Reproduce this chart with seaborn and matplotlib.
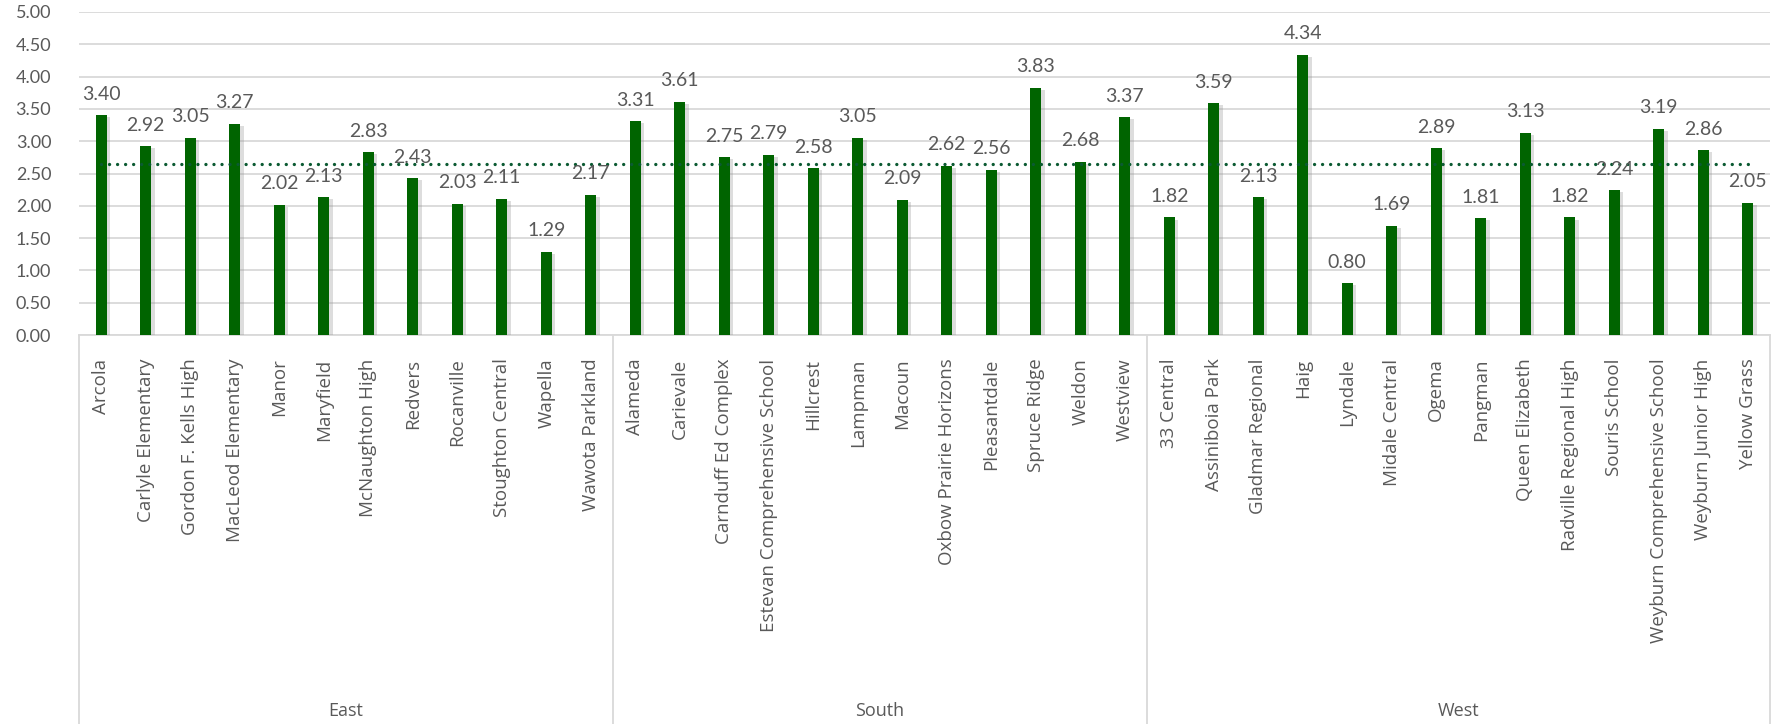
import matplotlib
matplotlib.use("Agg")
import matplotlib.pyplot as plt
import matplotlib.patheffects as pe
import matplotlib.transforms as mtrans
import seaborn as sns
import pandas as pd

# ---- data ----
east_schools = ["Arcola", "Carlyle Elementary", "Gordon F. Kells High", "MacLeod Elementary",
                "Manor", "Maryfield", "McNaughton High", "Redvers", "Rocanville",
                "Stoughton Central", "Wapella", "Wawota Parkland"]
east_values = [3.40, 2.92, 3.05, 3.27, 2.02, 2.13, 2.83, 2.43, 2.03, 2.11, 1.29, 2.17]

south_schools = ["Alameda", "Carievale", "Carnduff Ed Complex", "Estevan Comprehensive School",
                 "Hillcrest", "Lampman", "Macoun", "Oxbow Prairie Horizons", "Pleasantdale",
                 "Spruce Ridge", "Weldon", "Westview"]
south_values = [3.31, 3.61, 2.75, 2.79, 2.58, 3.05, 2.09, 2.62, 2.56, 3.83, 2.68, 3.37]

west_schools = ["33 Central", "Assiniboia Park", "Gladmar Regional", "Haig", "Lyndale",
                "Midale Central", "Ogema", "Pangman", "Queen Elizabeth", "Radville Regional High",
                "Souris School", "Weyburn Comprehensive School", "Weyburn Junior High", "Yellow Grass"]
west_values = [1.82, 3.59, 2.13, 4.34, 0.80, 1.69, 2.89, 1.81, 3.13, 1.82, 2.24, 3.19, 2.86, 2.05]

regions = ["East", "South", "West"]
reference_value = 2.65
y_ticks = [0.0, 0.5, 1.0, 1.5, 2.0, 2.5, 3.0, 3.5, 4.0, 4.5, 5.0]

# ---- build table ----
schools = east_schools + south_schools + west_schools
values = east_values + south_values + west_values
region_col = (["East"] * len(east_schools) + ["South"] * len(south_schools)
              + ["West"] * len(west_schools))
df = pd.DataFrame({"school": schools, "value": values, "region": region_col})

sns.set_theme(style="white")
plt.rcParams["font.family"] = ["Open Sans", "DejaVu Sans"]

fig = plt.figure(figsize=(17.77, 7.24), dpi=100)
ax = fig.add_axes([79 / 1777, 1 - 335 / 724, (1770 - 79) / 1777, (335 - 12) / 724])

bar_green = "#006400"
text_gray = "#595959"
grid_gray = "#d9d9d9"

sns.barplot(data=df, x="school", y="value", order=schools, color=bar_green,
            width=0.24, saturation=1, ax=ax, zorder=3)
for p in ax.patches:
    p.set_path_effects([pe.SimplePatchShadow(offset=(2.5, -1.5), shadow_rgbFace="#909090", alpha=0.3),
                        pe.Normal()])
    p.set_edgecolor("none")

n = len(schools)
ax.set_xlim(-0.5, n - 0.5)
ax.set_ylim(0, 5.0)
ax.set_yticks(y_ticks)
ax.set_yticklabels([f"{t:.2f}" for t in y_ticks], fontsize=13, color=text_gray,
                   family=["Lato", "DejaVu Sans"])
ax.tick_params(axis="y", length=0, pad=20)
ax.yaxis.grid(True, color=grid_gray, linewidth=1.3, zorder=0)
ax.set_axisbelow(True)
for s in ["top", "right", "left"]:
    ax.spines[s].set_visible(False)
ax.spines["bottom"].set_color(grid_gray)
ax.spines["bottom"].set_linewidth(1.3)

# average line (dotted, round dots)
ax.plot(range(n), [reference_value] * n, linestyle=(0, (0.01, 2.4)), color="#0b5a32",
        linewidth=2.4, zorder=4, dash_capstyle="round")

# value labels
for i, v in enumerate(values):
    ax.annotate(f"{v:.2f}", (i, v), xytext=(0, 9), textcoords="offset points",
                ha="center", va="bottom", fontsize=14, color=text_gray,
                family=["Lato", "DejaVu Sans"], zorder=5)

# category labels
ax.set_xticks(range(n))
ax.set_xticklabels(schools, rotation=90, fontsize=13.5, color=text_gray, va="top")
ax.tick_params(axis="x", length=0, pad=17)
ax.set_xlabel("")
ax.set_ylabel("")

# group separators and labels
trans = mtrans.blended_transform_factory(ax.transData, ax.transAxes)
bottom_frac = -(724 - 335) / (335 - 12)
label_frac = -(711 - 335) / (335 - 12)
bounds = [-0.5]
start = -0.5
for cnt in [len(east_schools), len(south_schools), len(west_schools)]:
    start += cnt
    bounds.append(start)
for b in bounds:
    ax.plot([b, b], [0, bottom_frac], transform=trans, color=grid_gray, linewidth=1.3,
            clip_on=False)
for r, lo, hi in zip(regions, bounds[:-1], bounds[1:]):
    ax.text((lo + hi) / 2, label_frac, r, transform=trans, ha="center", va="center",
            fontsize=13, color=text_gray)

fig.savefig("out.png", dpi=100)
